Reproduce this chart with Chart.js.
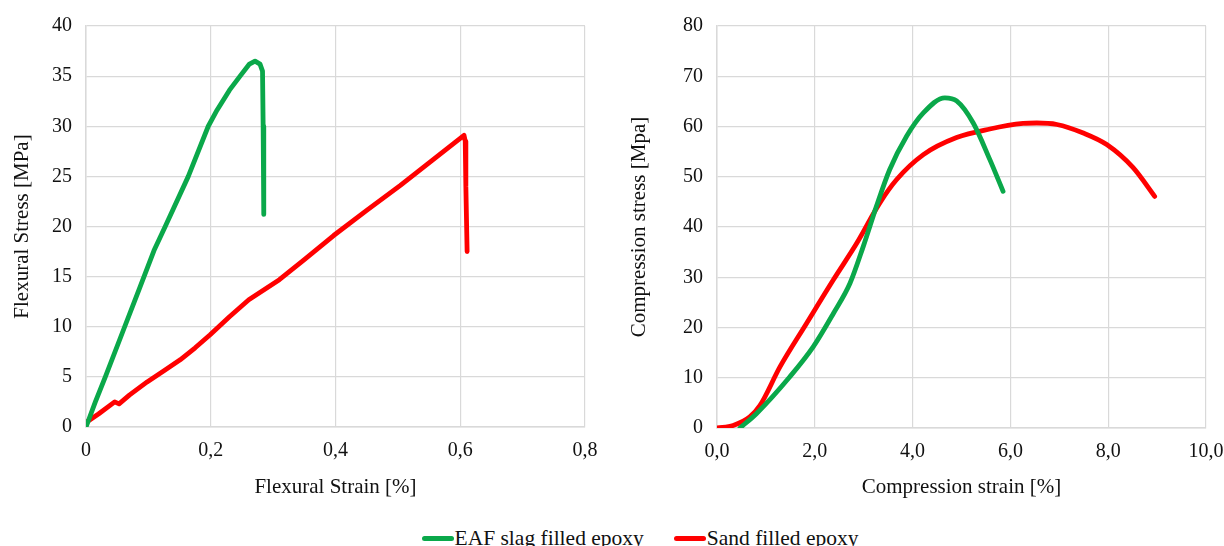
<!DOCTYPE html>
<html lang="en">
  <head>
    <meta charset="UTF-8" />
    <script src="https://cdn.jsdelivr.net/npm/chart.js"></script>
    <title>Flexural and compression curves</title>
    <style>
      * {
        padding: 0;
        margin: 0;
        box-sizing: border-box;
      }
      body {
        width: 1224px;
        height: 546px;
        background: #fff;
        position: relative;
        overflow: hidden;
        font-family: 'Liberation Serif', serif;
      }
      .box {
        position: absolute;
        top: 0;
        height: 510px;
      }
      #leftBox {
        left: 0;
        width: 600px;
      }
      #rightBox {
        left: 610px;
        width: 614px;
      }
      .legend {
        position: absolute;
        top: 525px;
        left: 28px;
        width: 1224px;
        display: flex;
        justify-content: center;
        gap: 30px;
        font-size: 21.5px;
        line-height: 26px;
        color: #111;
      }
      .legend span.line {
        display: inline-block;
        width: 32px;
        height: 5px;
        border-radius: 3px;
        vertical-align: middle;
        margin-right: 1px;
        position: relative;
        top: -2px;
      }
    </style>
  </head>
  <body>
    <div class="box" id="leftBox"><canvas id="flexChart"></canvas></div>
    <div class="box" id="rightBox"><canvas id="compChart"></canvas></div>
    <div class="legend" id="legend"></div>
    <script>
      // series names + colours
      const seriesNames = ['EAF slag filled epoxy', 'Sand filled epoxy'];
      const seriesColors = ['#0aa84a', '#ff0000'];

      // flexural test (strain %, stress MPa)
      const flexStrainEaf = [0, 0.015, 0.031, 0.062, 0.085, 0.109, 0.127, 0.164, 0.196, 0.21, 0.23, 0.247, 0.262, 0.271, 0.279, 0.283, 0.284, 0.285, 0.285];
      const flexStressEaf = [0, 2.5, 5, 10, 13.7, 17.6, 20, 25, 30, 31.6, 33.6, 35, 36.2, 36.5, 36.2, 35.5, 30, 25, 21.2];
      const flexStrainSand = [0, 0.02, 0.046, 0.053, 0.07, 0.098, 0.125, 0.151, 0.175, 0.199, 0.23, 0.261, 0.31, 0.35, 0.397, 0.45, 0.504, 0.555, 0.606, 0.608, 0.609, 0.611];
      const flexStressSand = [0.45, 1.3, 2.5, 2.3, 3.2, 4.5, 5.6, 6.7, 7.9, 9.2, 11.0, 12.7, 14.7, 16.7, 19.1, 21.6, 24.1, 26.6, 29.1, 28.5, 24, 17.5];

      // compression test (strain %, stress MPa)
      const compStrainEaf = [0.47, 0.81, 1.49, 1.97, 2.38, 2.72, 2.99, 3.26, 3.53, 3.88, 4.22, 4.66, 4.9, 5.24, 5.58, 5.85];
      const compStressEaf = [0, 2.9, 10.2, 16.2, 22.8, 28.8, 36.1, 44.1, 51.4, 58.1, 62.7, 65.7, 65.1, 60.7, 53.4, 47.1];
      const compStrainSand = [0, 0.33, 0.67, 0.88, 1.29, 1.83, 2.38, 2.86, 3.33, 3.67, 4.22, 4.9, 5.58, 6.26, 6.54, 6.95, 7.49, 7.97, 8.51, 8.95];
      const compStressSand = [0, 0.5, 2.2, 4.5, 12.2, 20.8, 29.5, 36.8, 44.8, 49.4, 54.4, 57.8, 59.5, 60.6, 60.7, 60.4, 58.7, 56.4, 51.8, 46.1];

      // tick labels
      const flexXTicks = ['0', '0,2', '0,4', '0,6', '0,8'];
      const compXTicks = ['0,0', '2,0', '4,0', '6,0', '8,0', '10,0'];

      const tickFont = { family: "'Liberation Serif', serif", size: 20 };
      const titleFont = { family: "'Liberation Serif', serif", size: 21 };
      const gridColor = '#d9d9d9';

      function toPoints(xs, ys) {
        return xs.map((x, i) => ({ x: x, y: ys[i] }));
      }

      function lineSet(i, xs, ys, tension) {
        return {
          label: seriesNames[i],
          data: toPoints(xs, ys),
          borderColor: seriesColors[i],
          backgroundColor: seriesColors[i],
          borderWidth: 4.8,
          pointRadius: 0,
          showLine: true,
          tension: tension,
          cubicInterpolationMode: tension ? 'monotone' : 'default',
          borderCapStyle: 'round',
          borderJoinStyle: 'round',
        };
      }

      function makeOptions(o) {
        return {
          animation: false,
          responsive: true,
          maintainAspectRatio: false,
          layout: { padding: { top: o.padTop, right: 0, left: 0, bottom: 0 } },
          plugins: { legend: { display: false }, tooltip: { enabled: false } },
          scales: {
            x: {
              type: 'linear',
              min: 0,
              max: o.xMax,
              ticks: {
                stepSize: o.xStep,
                color: '#111',
                font: tickFont,
                padding: 12,
                maxRotation: 0,
                callback: (v, i) => o.xTicks[i],
              },
              grid: { color: gridColor, lineWidth: 1.2, drawTicks: false },
              border: { color: gridColor, width: 1.5 },
              title: { display: true, text: o.xTitle, color: '#111', font: titleFont, padding: { top: 4, bottom: 10 } },
              afterFit: (s) => {
                s.height = o.xHeight;
                s.paddingRight = o.padRight; // plot runs closer to the right edge than the label overflow allows
              },
            },
            y: {
              min: 0,
              max: o.yMax,
              ticks: { stepSize: o.yStep, color: '#111', font: tickFont, padding: 14 },
              grid: { color: gridColor, lineWidth: 1.2, drawTicks: false },
              border: { color: gridColor, width: 1.5 },
              title: { display: true, text: o.yTitle, color: '#111', font: titleFont, padding: { top: o.yTitlePad } },
              afterFit: (s) => { s.width = o.yWidth; },
            },
          },
        };
      }

      new Chart(document.getElementById('flexChart'), {
        type: 'scatter',
        data: {
          datasets: [
            lineSet(0, flexStrainEaf, flexStressEaf, 0),
            lineSet(1, flexStrainSand, flexStressSand, 0),
          ],
        },
        options: makeOptions({
          xMax: 0.8, xStep: 0.2, xTicks: flexXTicks, xTitle: 'Flexural Strain [%]',
          yMax: 40, yStep: 5, yTitle: 'Flexural Stress [MPa]',
          padTop: 9, padRight: 15, xHeight: 83, yWidth: 86, yTitlePad: 10,
        }),
      });

      new Chart(document.getElementById('compChart'), {
        type: 'scatter',
        data: {
          datasets: [
            lineSet(0, compStrainEaf, compStressEaf, 0.4),
            lineSet(1, compStrainSand, compStressSand, 0.4),
          ],
        },
        options: makeOptions({
          xMax: 10, xStep: 2, xTicks: compXTicks, xTitle: 'Compression strain [%]',
          yMax: 80, yStep: 10, yTitle: 'Compression stress [Mpa]',
          padTop: 19, padRight: 18, xHeight: 82, yWidth: 107, yTitlePad: 17,
        }),
      });

      // shared legend under both charts
      const legend = document.getElementById('legend');
      seriesNames.forEach((name, i) => {
        const item = document.createElement('div');
        item.innerHTML = '<span class="line" style="background:' + seriesColors[i] + '"></span>' + name;
        legend.appendChild(item);
      });
    </script>
  </body>
</html>
